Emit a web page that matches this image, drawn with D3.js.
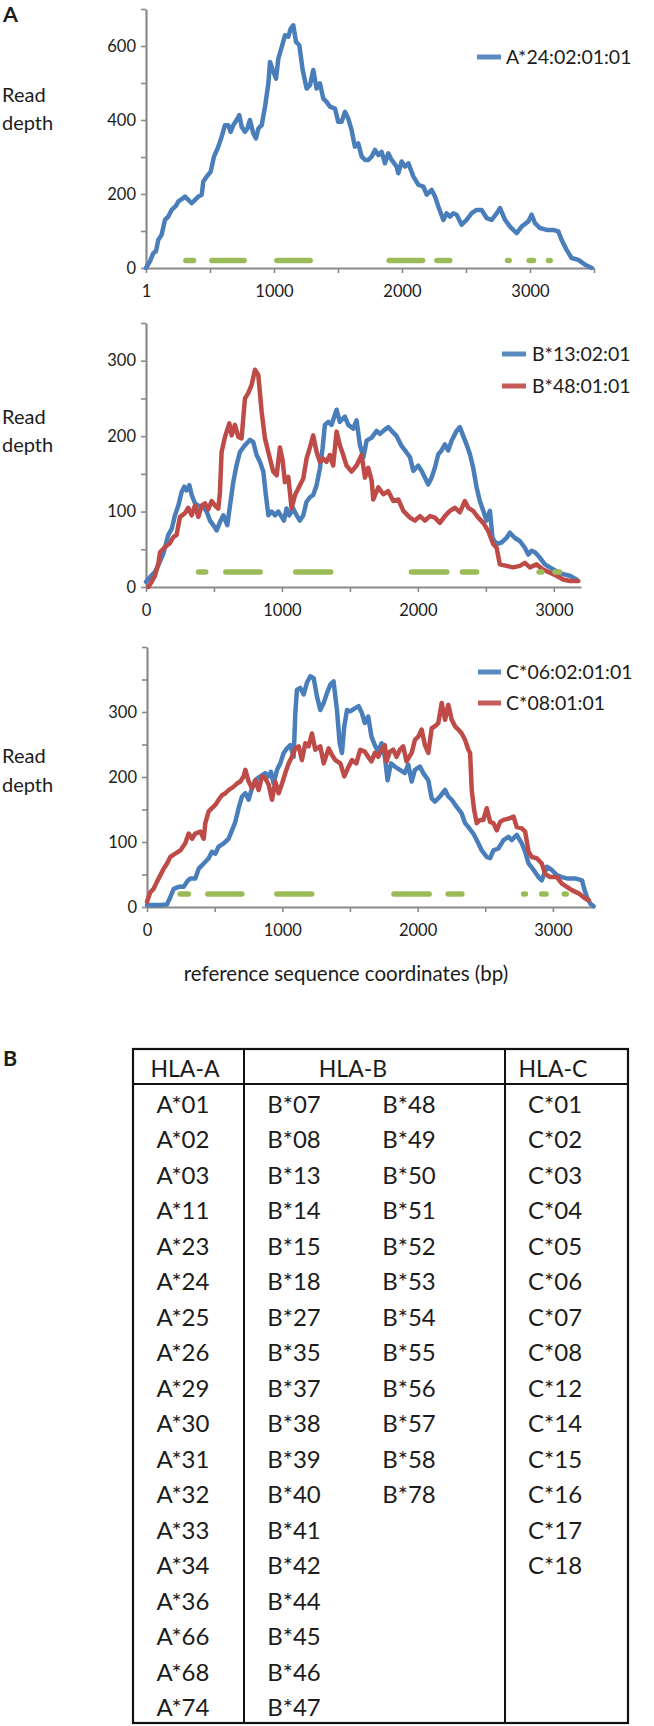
<!DOCTYPE html>
<html><head><meta charset="utf-8">
<script src="https://cdn.jsdelivr.net/npm/d3@7"></script>
<style>
html,body{margin:0;padding:0;background:#fff;}
svg{display:block;}
text{font-family:Lato,"Open Sans",sans-serif;fill:#1c1c1c;}
</style></head><body>
<svg id="chart" width="654" height="1726"></svg>
<script>
// ---------- DATA ----------
// [position (bp), read depth]
const depthA24 = [[0,0],[31,18],[57,40],[78,45],[96,76],[122,90],[148,130],[174,139],[200,157],[234,168],[253,180],[279,186],[305,193],[331,184],[357,175],[383,184],[409,193],[435,198],[448,234],[474,247],[505,260],[531,301],[565,328],[591,355],[617,386],[643,386],[661,368],[682,386],[708,400],[729,413],[747,382],[773,368],[792,377],[812,400],[838,364],[859,350],[878,377],[904,386],[930,436],[956,499],[969,557],[990,535],[1016,512],[1034,566],[1060,597],[1086,629],[1112,625],[1130,647],[1151,656],[1172,611],[1198,602],[1224,535],[1255,485],[1281,494],[1307,535],[1333,485],[1359,499],[1385,458],[1411,449],[1437,436],[1476,431],[1502,395],[1528,395],[1554,422],[1580,404],[1606,373],[1632,328],[1658,337],[1685,301],[1712,292],[1737,292],[1763,301],[1789,319],[1815,305],[1841,314],[1867,283],[1893,310],[1919,292],[1958,274],[1971,256],[1997,288],[2023,274],[2050,283],[2089,247],[2128,225],[2167,220],[2193,198],[2232,211],[2258,193],[2284,166],[2323,130],[2349,148],[2375,139],[2401,148],[2427,144],[2466,117],[2505,130],[2544,148],[2583,157],[2622,157],[2661,135],[2701,130],[2740,148],[2766,162],[2805,130],[2844,112],[2896,94],[2935,112],[2987,126],[3013,144],[3039,121],[3078,108],[3130,103],[3182,103],[3221,99],[3247,76],[3286,49],[3325,27],[3378,22],[3430,9],[3482,0]];

const depthB13 = [[0,7],[29,13],[66,20],[91,29],[127,44],[164,69],[189,77],[213,95],[238,108],[262,126],[282,133],[299,128],[319,135],[336,122],[360,111],[385,108],[422,106],[446,100],[471,88],[495,82],[520,75],[544,86],[569,95],[598,82],[618,108],[642,139],[667,162],[691,179],[728,188],[765,195],[789,192],[814,175],[838,166],[863,153],[882,122],[900,95],[924,100],[949,95],[973,100],[998,93],[1015,88],[1034,104],[1054,95],[1083,104],[1108,95],[1132,88],[1157,95],[1181,113],[1206,119],[1230,122],[1255,135],[1279,157],[1299,184],[1316,215],[1341,219],[1365,215],[1402,235],[1426,219],[1463,226],[1488,215],[1525,210],[1549,221],[1574,188],[1599,172],[1623,194],[1660,198],[1697,207],[1721,203],[1746,207],[1782,212],[1807,207],[1844,200],[1880,187],[1905,181],[1942,172],[1966,154],[2003,161],[2027,154],[2052,145],[2076,136],[2101,145],[2125,158],[2150,176],[2174,181],[2199,189],[2223,181],[2248,194],[2285,207],[2309,212],[2334,200],[2358,189],[2383,176],[2407,158],[2432,132],[2456,114],[2481,101],[2505,88],[2530,101],[2549,65],[2579,57],[2616,59],[2652,65],[2677,72],[2714,65],[2750,61],[2787,52],[2812,43],[2836,48],[2861,46],[2897,39],[2934,30],[2971,26],[3020,21],[3069,17],[3118,15],[3167,10]];

const depthB48 = [[17,0],[42,7],[66,15],[91,31],[103,46],[140,53],[176,58],[201,66],[225,69],[250,93],[287,98],[311,105],[336,95],[360,108],[385,93],[409,108],[434,111],[458,103],[483,114],[507,108],[532,104],[544,126],[556,179],[581,199],[613,217],[630,201],[654,215],[679,199],[703,197],[728,250],[752,257],[777,268],[802,288],[826,281],[851,232],[875,197],[912,170],[936,153],[961,148],[985,185],[1005,168],[1022,139],[1047,146],[1071,104],[1096,122],[1132,135],[1157,144],[1181,170],[1206,185],[1230,201],[1255,179],[1279,166],[1304,170],[1328,166],[1353,175],[1377,161],[1402,206],[1426,188],[1451,175],[1475,161],[1512,153],[1549,161],[1586,175],[1611,145],[1635,158],[1660,141],[1672,116],[1709,132],[1746,123],[1782,127],[1819,114],[1856,116],[1893,101],[1942,92],[1978,88],[2015,94],[2052,88],[2089,94],[2125,92],[2162,85],[2199,94],[2236,101],[2273,105],[2309,99],[2346,114],[2371,105],[2407,101],[2444,92],[2481,85],[2518,74],[2554,57],[2579,52],[2603,30],[2652,28],[2701,26],[2750,28],[2787,32],[2824,26],[2873,30],[2922,23],[2971,19],[3020,15],[3069,10],[3118,8],[3180,8]];

const depthC06 = [[0,3],[49,3],[99,3],[148,4],[172,15],[197,28],[234,31],[271,31],[296,39],[320,44],[357,44],[382,59],[419,67],[456,75],[480,85],[505,82],[530,93],[567,98],[603,105],[628,118],[653,131],[677,152],[702,170],[727,175],[751,165],[776,183],[800,195],[838,201],[874,206],[899,201],[916,208],[936,190],[961,211],[985,221],[1010,237],[1034,244],[1059,249],[1084,231],[1096,298],[1108,334],[1133,337],[1158,327],[1182,345],[1207,355],[1232,352],[1256,324],[1281,303],[1306,314],[1330,329],[1355,342],[1379,347],[1404,303],[1424,252],[1441,237],[1458,278],[1478,303],[1502,301],[1539,306],[1564,309],[1589,298],[1610,283],[1635,293],[1659,262],[1684,249],[1709,239],[1733,252],[1758,231],[1778,195],[1803,221],[1832,216],[1869,211],[1906,206],[1931,219],[1956,193],[1980,211],[2017,216],[2042,206],[2079,195],[2104,167],[2128,162],[2165,170],[2203,180],[2227,170],[2252,165],[2289,154],[2326,144],[2351,129],[2375,123],[2412,113],[2437,103],[2474,87],[2511,77],[2536,75],[2560,87],[2597,90],[2635,103],[2672,108],[2696,103],[2733,111],[2770,98],[2795,85],[2820,67],[2857,57],[2894,46],[2918,41],[2955,62],[2992,57],[3029,49],[3066,46],[3103,44],[3165,44],[3215,41],[3234,26],[3252,15],[3277,5],[3301,1]];

const depthC08 = [[0,8],[25,23],[49,28],[74,39],[99,49],[123,59],[148,67],[172,77],[209,82],[246,87],[283,98],[308,113],[333,105],[357,113],[394,116],[419,105],[431,129],[456,147],[480,152],[505,157],[530,165],[554,172],[579,175],[604,180],[640,185],[665,190],[690,193],[714,201],[727,211],[751,193],[776,183],[800,195],[825,180],[850,201],[874,198],[899,188],[924,165],[948,193],[973,175],[998,190],[1022,206],[1047,221],[1071,231],[1096,244],[1121,247],[1145,226],[1170,252],[1194,247],[1219,267],[1244,242],[1281,247],[1306,221],[1342,244],[1367,234],[1392,226],[1429,221],[1458,201],[1490,216],[1515,226],[1547,221],[1576,242],[1610,239],[1635,231],[1659,224],[1684,237],[1709,231],[1733,242],[1758,249],[1770,224],[1795,239],[1820,242],[1844,231],[1869,242],[1894,247],[1918,224],[1956,237],[1980,257],[2005,262],[2030,273],[2054,249],[2079,237],[2104,275],[2128,278],[2153,283],[2178,314],[2203,288],[2227,311],[2252,288],[2277,278],[2301,273],[2326,267],[2351,257],[2375,242],[2388,237],[2400,180],[2418,149],[2437,129],[2462,134],[2486,134],[2511,152],[2536,131],[2560,129],[2585,118],[2610,131],[2635,134],[2672,136],[2709,139],[2733,123],[2770,121],[2795,116],[2820,85],[2844,77],[2881,75],[2918,67],[2943,51],[2980,46],[3029,46],[3066,36],[3103,31],[3140,26],[3190,21],[3227,15],[3264,10]];

// exon segments [start, end] in bp, drawn at depth EXON_LEVEL
const exonsA = [[292,391],[495,786],[1003,1302],[1880,2180],[2253,2393],[2805,2857],[2974,3047],[3138,3164]];
const exonsB = [[368,458],[569,858],[1083,1377],[1934,2231],[2309,2451],[2873,2930],[2990,3060]];
const exonsC = [[227,325],[431,719],[941,1236],[1807,2104],[2207,2346],[2765,2815],[2899,2968],[3080,3103]];
const EXON_LEVEL = 20;

// axis ticks / labels
const xTicksA = [0,500,1000,1500,2000,2500,3000,3500];
const xTicksBC = [0,500,1000,1500,2000,2500,3000];
const xLabelVals = [0,1000,2000,3000];
const yTicksA = [0,100,200,300,400,500,600,700];
const yLabelsA = [0,200,400,600];
const yTicksB = [0,50,100,150,200,250,300,350];
const yTicksC = [0,50,100,150,200,250,300,350,400];
const yLabelsBC = [0,100,200,300];

// table
const hlaA = ["A*01","A*02","A*03","A*11","A*23","A*24","A*25","A*26","A*29","A*30","A*31","A*32","A*33","A*34","A*36","A*66","A*68","A*74"];
const hlaB1 = ["B*07","B*08","B*13","B*14","B*15","B*18","B*27","B*35","B*37","B*38","B*39","B*40","B*41","B*42","B*44","B*45","B*46","B*47"];
const hlaB2 = ["B*48","B*49","B*50","B*51","B*52","B*53","B*54","B*55","B*56","B*57","B*58","B*78"];
const hlaC = ["C*01","C*02","C*03","C*04","C*05","C*06","C*07","C*08","C*12","C*14","C*15","C*16","C*17","C*18"];
const tableHeaders = ["HLA-A","HLA-B","HLA-C"];

// ---------- STYLE ----------
const BLUE = "#4A7EBB", RED = "#BE4B48", GREEN = "#9BBB59", AXIS = "#8a8a8a";

const svg = d3.select("#chart");
svg.append("rect").attr("width",654).attr("height",1726).attr("fill","#fff");

const panels = [
  {series:[{name:"A*24:02:01:01",data:depthA24,color:BLUE}], exons:exonsA,
   xMax:3500, yMax:700, xTicks:xTicksA, yTicks:yTicksA, yLabels:yLabelsA, zeroLabel:"1",
   x0:146, x1:594, y0:268, y1:9, leg:{x0:477,x1:501,tx:506,y:[57]}, read:[102,130]},
  {series:[{name:"B*13:02:01",data:depthB13,color:BLUE},{name:"B*48:01:01",data:depthB48,color:RED}], exons:exonsB,
   xMax:3200, yMax:350, xTicks:xTicksBC, yTicks:yTicksB, yLabels:yLabelsBC, zeroLabel:"0",
   x0:146, x1:581, y0:587, y1:323, leg:{x0:502,x1:526,tx:532,y:[354,386]}, read:[424,452]},
  {series:[{name:"C*06:02:01:01",data:depthC06,color:BLUE},{name:"C*08:01:01",data:depthC08,color:RED}], exons:exonsC,
   xMax:3300, yMax:400, xTicks:xTicksBC, yTicks:yTicksC, yLabels:yLabelsBC, zeroLabel:"0",
   x0:147, x1:593.5, y0:907, y1:647, leg:{x0:478,x1:501,tx:506,y:[672,703]}, read:[763,792]}
];

panels.forEach(p => {
  const g = svg.append("g");
  const x = d3.scaleLinear().domain([0,p.xMax]).range([p.x0,p.x1]);
  const y = d3.scaleLinear().domain([0,p.yMax]).range([p.y0,p.y1]);

  const ya = g.append("g").attr("transform",`translate(${p.x0},0)`)
    .call(d3.axisLeft(y).tickValues(p.yTicks).tickSize(5).tickSizeOuter(0).tickPadding(5)
      .tickFormat(d => p.yLabels.includes(d) ? d : ""));
  const xa = g.append("g").attr("transform",`translate(0,${p.y0})`)
    .call(d3.axisBottom(x).tickValues(p.xTicks).tickSize(5).tickSizeOuter(0).tickPadding(12)
      .tickFormat(d => d===0 ? p.zeroLabel : (xLabelVals.includes(d) ? d : "")));
  [ya,xa].forEach(a => {
    a.select(".domain").attr("stroke",AXIS).attr("stroke-width",2.2);
    a.selectAll(".tick line").attr("stroke",AXIS).attr("stroke-width",1.6);
    a.selectAll(".tick text").attr("font-family","Lato, sans-serif").attr("font-size",16.5).attr("fill","#1c1c1c");
  });

  const line = d3.line().x(d=>x(d[0])).y(d=>y(d[1]));
  p.series.forEach(s => {
    g.append("path").datum(s.data).attr("d",line).attr("fill","none")
      .attr("stroke",s.color).attr("stroke-width",4.5).attr("stroke-linejoin","round").attr("stroke-linecap","round");
  });
  g.selectAll(".exon").data(p.exons).enter().append("line")
    .attr("x1",d=>x(d[0])+2.5).attr("x2",d=>x(d[1])-2.5)
    .attr("y1",y(EXON_LEVEL)).attr("y2",y(EXON_LEVEL))
    .attr("stroke",GREEN).attr("stroke-width",5.5).attr("stroke-linecap","round");

  p.series.forEach((s,i) => {
    const ly = p.leg.y[i];
    g.append("line").attr("x1",p.leg.x0).attr("x2",p.leg.x1).attr("y1",ly).attr("y2",ly)
      .attr("stroke",s.color).attr("stroke-width",5).attr("opacity",0.9);
    g.append("text").attr("x",p.leg.tx).attr("y",ly+7).attr("font-size",19.5).text(s.name);
  });

  g.append("text").attr("x",2).attr("y",p.read[0]).attr("font-size",20).text("Read");
  g.append("text").attr("x",2).attr("y",p.read[1]).attr("font-size",20).text("depth");
});

svg.append("text").attr("x",3).attr("y",22).attr("font-family","Liberation Sans, Arial, sans-serif")
  .attr("font-weight","bold").attr("font-size",21.5).text("A");
svg.append("text").attr("x",346).attr("y",981).attr("text-anchor","middle").attr("font-size",20.5)
  .text("reference sequence coordinates (bp)");
svg.append("text").attr("x",3).attr("y",1066).attr("font-family","Liberation Sans, Arial, sans-serif")
  .attr("font-weight","bold").attr("font-size",21.5).text("B");

// ---------- TABLE ----------
const T = {left:133, right:628, top:1049, head:1084, bottom:1723, div1:244, div2:505};
const tg = svg.append("g");
const stroke = "#111";
tg.append("rect").attr("x",T.left).attr("y",T.top).attr("width",T.right-T.left).attr("height",T.bottom-T.top)
  .attr("fill","none").attr("stroke",stroke).attr("stroke-width",2.2);
tg.append("line").attr("x1",T.left).attr("x2",T.right).attr("y1",T.head).attr("y2",T.head).attr("stroke",stroke).attr("stroke-width",2);
[T.div1,T.div2].forEach(xv => tg.append("line").attr("x1",xv).attr("x2",xv).attr("y1",T.top).attr("y2",T.bottom).attr("stroke",stroke).attr("stroke-width",2));

const headerX = [185,353,553];
tableHeaders.forEach((h,i) => tg.append("text").attr("x",headerX[i]).attr("y",1069).attr("dy","0.36em")
  .attr("text-anchor","middle").attr("font-size",23).text(h));

const rowY = d3.scaleLinear().domain([0,1]).range([1104,1139.5]);
const cols = [{vals:hlaA,x:183},{vals:hlaB1,x:294},{vals:hlaB2,x:409},{vals:hlaC,x:555}];
cols.forEach(c => {
  tg.selectAll(null).data(c.vals).enter().append("text")
    .attr("x",c.x).attr("y",(d,i)=>rowY(i)).attr("dy","0.36em").attr("text-anchor","middle")
    .attr("font-size",24).text(d=>d);
});
</script>
</body></html>
